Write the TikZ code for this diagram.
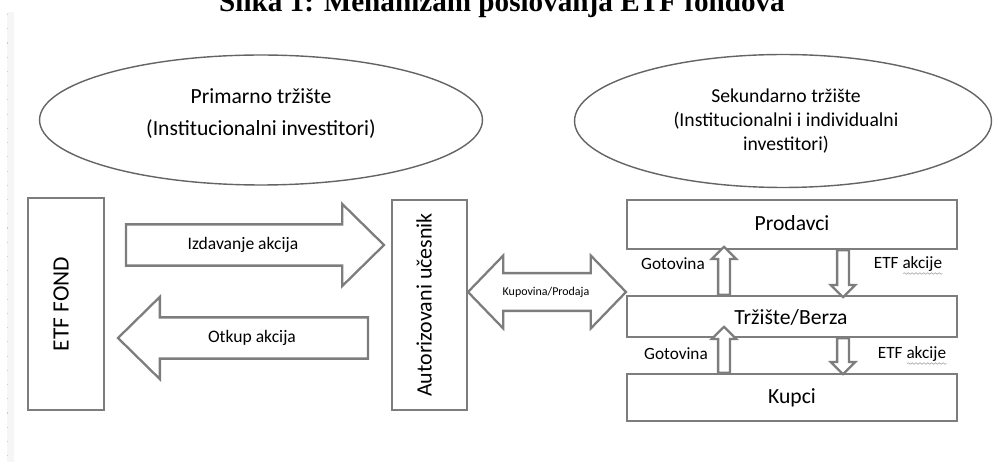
\documentclass[tikz,border=0pt]{standalone}
\usepackage{fontspec}
\setmainfont{Carlito}
\newfontfamily\titlefont{Liberation Serif}
\usepackage{tikz}
\usetikzlibrary{shapes.geometric,shapes.arrows,decorations.pathmorphing,calc}
\definecolor{edgegray}{RGB}{125,125,125}
\definecolor{ovalgray}{RGB}{100,100,100}

\begin{document}
\begin{tikzpicture}[x=0.02cm,y=-0.02cm,
	box/.style={draw=edgegray,line width=1.3pt,fill=white,inner sep=0pt},
	oval/.style={draw=ovalgray,line width=0.8pt,ellipse,inner sep=0pt},
	bigarrow/.style={single arrow,draw=edgegray,line width=1.3pt,fill=white,
		inner xsep=0pt,inner ysep=0.39cm,outer sep=0pt,minimum width=0pt,
		single arrow head extend=0.41cm,single arrow tip angle=89},
	smallarrow/.style={single arrow,draw=edgegray,line width=1.3pt,fill=white,
		inner sep=0.095cm,outer sep=0pt,minimum width=0pt,
		single arrow head extend=0.13cm,single arrow tip angle=91},
	squiggle/.style={gray!65,line width=0.4pt,decorate,
		decoration={snake,amplitude=0.45pt,segment length=2.2pt}}]
		\useasboundingbox (0,0) rectangle (993,462);
		\clip (0,0) rectangle (993,462);
		% page margin
		\fill[gray!7] (7,12) rectangle (14,462);
		\draw[gray!40,line width=0.6pt,dash pattern=on 0.6pt off 7.5pt] (7.5,14) -- (7.5,462);
		
		% title (cut at the top)
		\node[font=\titlefont\bfseries\fontsize{16.6}{20}\selectfont,anchor=base] (title) at (502,12) {Slika 1: Mehanizam poslovanja ETF fondova};
		
		% markets
		\node[oval,minimum width=8.86cm,minimum height=2.6cm] (prim) at (261,120) {};
		\node[font=\fontsize{12.3}{18.2}\selectfont,align=center] (primT) at (261,114) {Primarno tržište\\(Institucionalni investitori)};
		\node[oval,minimum width=8.34cm,minimum height=2.66cm] (sek) at (783,121) {};
		\node[font=\fontsize{11.2}{13.4}\selectfont,align=center] (sekT) at (786,121) {Sekundarno tržište\\(Institucionalni i individualni\\investitori)};
		
		% boxes
		\node[box,minimum width=1.52cm,minimum height=4.24cm] (etf) at (66,304) {};
		\node[font=\fontsize{13.3}{16}\selectfont,rotate=90] (etfT) at (61,304) {ETF FOND};
		\node[box,minimum width=1.5cm,minimum height=4.2cm] (aut) at (429.5,305) {};
		\node[font=\fontsize{12.5}{15}\selectfont,rotate=90] (autT) at (424,305) {Autorizovani učesnik};
		\node[box,minimum width=6.6cm,minimum height=0.98cm] (prod) at (792,224.5) {};
		\node[font=\fontsize{12.3}{15}\selectfont] (prodT) at (792,223) {Prodavci};
		\node[box,minimum width=6.6cm,minimum height=0.82cm] (trz) at (792,316.5) {};
		\node[font=\fontsize{12.3}{15}\selectfont] (trzT) at (791,317) {Tržište/Berza};
		\node[box,minimum width=6.6cm,minimum height=0.94cm] (kup) at (792,397.5) {};
		\node[font=\fontsize{12.3}{15}\selectfont] (kupT) at (792,398) {Kupci};
		
		% primary market arrows
		\node[bigarrow,anchor=tip,minimum height=5.16cm] (izd) at (384,245) {};
		\node[font=\fontsize{10}{12}\selectfont] (izdT) at (243,245) {Izdavanje akcija};
		\node[bigarrow,shape border rotate=180,anchor=tip,minimum height=5.0cm] (otk) at (118,338) {};
		\node[font=\fontsize{10}{12}\selectfont] (otkT) at (252,338) {Otkup akcija};
		\node[double arrow,draw=edgegray,line width=1.3pt,fill=white,inner xsep=0pt,inner ysep=0.355cm,
			outer sep=0pt,minimum width=0pt,minimum height=3.16cm,
			double arrow head extend=0.35cm,double arrow tip angle=92] (kp) at (547,292) {};
		\node[font=\fontsize{6.8}{8}\selectfont] (kpT) at (546,292) {Kupovina/Prodaja};
		
		% secondary market arrows
		\coordinate (gx) at (724,0);
		\coordinate (ex) at (843,0);
		\node[smallarrow,shape border rotate=90,anchor=tail,minimum height=0.96cm] (got1) at (trz.north -| gx) {};
		\node[smallarrow,shape border rotate=90,anchor=tail,minimum height=0.92cm] (got2) at (kup.north -| gx) {};
		\node[smallarrow,shape border rotate=270,anchor=tail,minimum height=0.94cm] (etfa1) at (prod.south -| ex) {};
		\node[smallarrow,shape border rotate=270,anchor=tail,minimum height=0.72cm] (etfa2) at (trz.south -| ex) {};
		
		\node[font=\fontsize{9.8}{12}\selectfont] (got1T) at (673,264) {Gotovina};
		\node[font=\fontsize{9.8}{12}\selectfont] (got2T) at (676,354) {Gotovina};
		\node[font=\fontsize{9.8}{12}\selectfont,inner sep=0pt] (etfa1T) at (908,264) {ETF akcije};
		\node[font=\fontsize{9.8}{12}\selectfont,inner sep=0pt] (etfa2T) at (912,354) {ETF akcije};
		\draw[squiggle] ($(etfa1T.base west)!0.43!(etfa1T.base east)+(0,5)$) -- ($(etfa1T.base east)+(0,5)$);
		\draw[squiggle] ($(etfa2T.base west)!0.43!(etfa2T.base east)+(0,5)$) -- ($(etfa2T.base east)+(0,5)$);
\end{tikzpicture}
\end{document}
